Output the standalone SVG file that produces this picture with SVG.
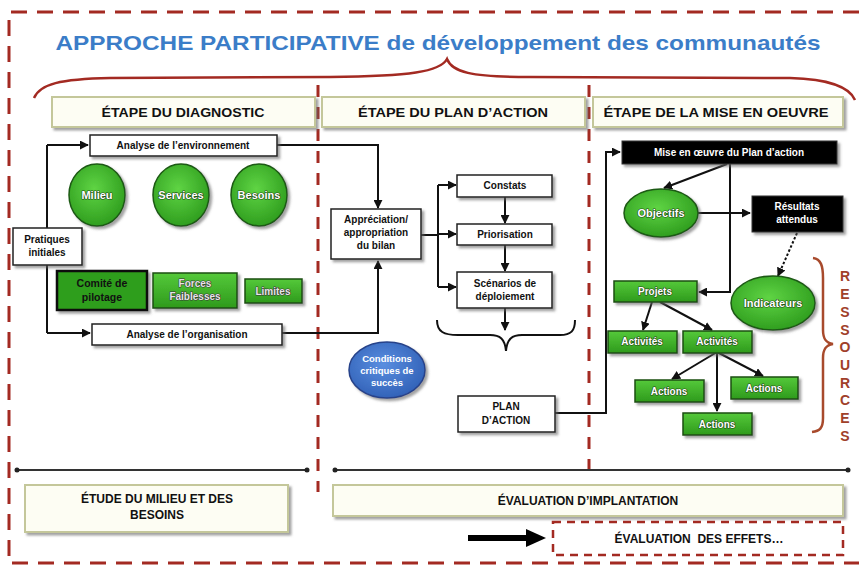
<svg xmlns="http://www.w3.org/2000/svg" width="859" height="567" viewBox="0 0 859 567">
<defs>
<filter id="sh" x="-20%" y="-20%" width="140%" height="150%"><feDropShadow dx="2.5" dy="2.5" stdDeviation="1" flood-color="#666" flood-opacity="0.6"/></filter>
<linearGradient id="gr" x1="0" y1="0" x2="0" y2="1"><stop offset="0" stop-color="#55c93a"/><stop offset="1" stop-color="#2e9a1c"/></linearGradient>
<radialGradient id="gc" cx="0.45" cy="0.4" r="0.65"><stop offset="0" stop-color="#5fd444"/><stop offset="1" stop-color="#2c9a1c"/></radialGradient>
<radialGradient id="bc" cx="0.45" cy="0.4" r="0.65"><stop offset="0" stop-color="#5a8ee0"/><stop offset="1" stop-color="#2f5fb5"/></radialGradient>
<marker id="ar" viewBox="0 0 10 10" refX="9" refY="5" markerWidth="4.5" markerHeight="4.5" orient="auto"><path d="M0 0 L10 5 L0 10 z" fill="#111"/></marker>
</defs>
<style>
.t{font-family:"Liberation Sans",Arial,sans-serif;font-weight:bold;text-anchor:middle}
.hd{fill:#fdfdf3;stroke:#c4c79a;stroke-width:2}
.wb{fill:#fff;stroke:#222;stroke-width:1.5}
.bb{fill:#050505;stroke:#333;stroke-width:1}
.gb{fill:url(#gr);stroke:#1c4d12;stroke-width:1.5}
.ge{fill:url(#gc);stroke:#1d5a13;stroke-width:1.5}
.c{fill:none;stroke:#111;stroke-width:2}
.red{fill:none;stroke:#a32a22;stroke-width:3}
.wt{fill:#fff;stroke:#1f4a14;stroke-width:1.2;paint-order:stroke;stroke-linejoin:round}
.gt{fill:#e6e6e6;stroke:#333;stroke-width:1.1;paint-order:stroke;stroke-linejoin:round}
.k{fill:#111}
.rl{fill:#a0402a}
</style>
<rect width="859" height="567" fill="#fff"/>

<g id="frame">
<path class="red" d="M859 12 H9 V563 H859" stroke-dasharray="16 10"/>
<line class="red" x1="318" y1="85" x2="318" y2="492" stroke-dasharray="12 10"/>
<line class="red" x1="589" y1="85" x2="589" y2="470" stroke-dasharray="12 10"/>
</g>

<g id="title">
<text class="t" x="438" y="50" font-size="21" fill="#3b7dc8" textLength="765" lengthAdjust="spacingAndGlyphs">APPROCHE PARTICIPATIVE de développement des communautés</text>
<path d="M34 98 C40 84 60 79 110 78 L330 77 C410 76 440 72 447 59 C452 72 470 77 530 77 L790 78 C830 79 850 88 855 100" fill="none" stroke="#a32a22" stroke-width="2.5"/>
</g>

<g id="stage-diagnostic">
<rect class="hd" x="52" y="97" width="263" height="30" filter="url(#sh)"/>
<text class="t k" x="183" y="117" font-size="13" textLength="163" lengthAdjust="spacingAndGlyphs">ÉTAPE DU DIAGNOSTIC</text>
</g>
<g id="stage-plan">
<rect class="hd" x="322" y="97" width="263" height="30" filter="url(#sh)"/>
<text class="t k" x="453" y="117" font-size="13" textLength="190" lengthAdjust="spacingAndGlyphs">ÉTAPE DU PLAN D’ACTION</text>
</g>
<g id="stage-mise">
<rect class="hd" x="593" y="97" width="250" height="30" filter="url(#sh)"/>
<text class="t k" x="716" y="117" font-size="13" textLength="225" lengthAdjust="spacingAndGlyphs">ÉTAPE DE LA MISE EN OEUVRE</text>
</g>

<g id="connectors">
<path class="c" d="M47 145 V333"/>
<path class="c" d="M47 145 H88" marker-end="url(#ar)"/>
<path class="c" d="M47 333 H90" marker-end="url(#ar)"/>
<path class="c" d="M277 145 H378 V208" marker-end="url(#ar)"/>
<path class="c" d="M282 333 H378 V261" marker-end="url(#ar)"/>
<path class="c" d="M421 235 H438"/>
<path class="c" d="M438 185 V287"/>
<path class="c" d="M438 185 H456" marker-end="url(#ar)"/>
<path class="c" d="M438 234 H456" marker-end="url(#ar)"/>
<path class="c" d="M438 287 H456" marker-end="url(#ar)"/>
<path class="c" d="M505 197 V223" marker-end="url(#ar)"/>
<path class="c" d="M505 245 V271" marker-end="url(#ar)"/>
<path class="c" d="M505 308 V330" marker-end="url(#ar)"/>
<path class="c" d="M437 320 C437 332 444 335 458 335 L490 335 C500 335 505 339 506 351 C507 339 512 335 522 335 L560 335 C571 335 575 331 575 320"/>
<path class="c" d="M555 413 H606 V152 H620" marker-end="url(#ar)"/>
<path class="c" d="M727 164 L664 188" marker-end="url(#ar)"/>
<path class="c" d="M730 164 V292 H699" marker-end="url(#ar)"/>
<path class="c" d="M697 213 H750" marker-end="url(#ar)"/>
<path class="c" d="M797 233 L778 276" stroke-dasharray="2.5 2" stroke-width="2.5" marker-end="url(#ar)"/>
<path class="c" d="M652 302 L643 330" marker-end="url(#ar)"/>
<path class="c" d="M660 302 L712 330" marker-end="url(#ar)"/>
<path class="c" d="M717 352 L672 379" marker-end="url(#ar)"/>
<path class="c" d="M717 352 V411" marker-end="url(#ar)"/>
<path class="c" d="M717 352 L763 376" marker-end="url(#ar)"/>
<path d="M813 258 C821 259 823 266 823 278 L823 330 C823 339 826 343 833 344 C826 345 823 349 823 358 L823 418 C823 428 820 431 812 432" fill="none" stroke="#a84a2c" stroke-width="2.5"/>
<path d="M17 470 H307 M335 470 H848" stroke="#333" stroke-width="2"/>
<circle cx="17" cy="470" r="2.5" fill="#222"/><circle cx="307" cy="470" r="2.5" fill="#222"/>
<circle cx="335" cy="470" r="2.5" fill="#222"/><circle cx="848" cy="470" r="2.5" fill="#222"/>
<path d="M468 538 H528" stroke="#000" stroke-width="6"/>
<path d="M526 529 L546 538 L526 547 z" fill="#000"/>
</g>

<g id="env">
<rect class="wb" x="90" y="135" width="187" height="21" filter="url(#sh)"/>
<text class="t k" x="183" y="149" font-size="10">Analyse de l’environnement</text>
</g>
<g id="milieu">
<ellipse class="ge" cx="97" cy="195" rx="28" ry="31" filter="url(#sh)"/>
<text class="t wt" x="97" y="199" font-size="11">Milieu</text>
</g>
<g id="services">
<ellipse class="ge" cx="181" cy="195" rx="28" ry="31" filter="url(#sh)"/>
<text class="t wt" x="181" y="199" font-size="11">Services</text>
</g>
<g id="besoins">
<ellipse class="ge" cx="259" cy="195" rx="28" ry="31" filter="url(#sh)"/>
<text class="t wt" x="259" y="199" font-size="11">Besoins</text>
</g>
<g id="pratiques">
<rect class="wb" x="13" y="228" width="69" height="37" filter="url(#sh)"/>
<text class="t k" x="47" y="243" font-size="10">Pratiques</text>
<text class="t k" x="47" y="256" font-size="10">initiales</text>
</g>
<g id="comite">
<rect x="57" y="271" width="90" height="39" fill="#2f9e1e" stroke="#0a0a0a" stroke-width="2.5" filter="url(#sh)"/>
<text class="t k" x="102" y="287" font-size="10.5">Comité de</text>
<text class="t k" x="102" y="301" font-size="10.5">pilotage</text>
</g>
<g id="forces">
<rect class="gb" x="153" y="273" width="84" height="35" filter="url(#sh)"/>
<text class="t gt" x="195" y="287" font-size="10">Forces</text>
<text class="t gt" x="195" y="300" font-size="10">Faiblesses</text>
</g>
<g id="limites">
<rect class="gb" x="245" y="279" width="57" height="24" filter="url(#sh)"/>
<text class="t gt" x="273" y="295" font-size="10">Limites</text>
</g>
<g id="org">
<rect class="wb" x="92" y="324" width="190" height="21" filter="url(#sh)"/>
<text class="t k" x="187" y="338" font-size="10">Analyse de l’organisation</text>
</g>

<g id="appreciation">
<rect class="wb" x="331" y="209" width="90" height="50" filter="url(#sh)"/>
<text class="t k" x="376" y="223" font-size="10">Appréciation/</text>
<text class="t k" x="376" y="236" font-size="10">appropriation</text>
<text class="t k" x="376" y="249" font-size="10">du bilan</text>
</g>
<g id="constats">
<rect class="wb" x="457" y="175" width="95" height="22" filter="url(#sh)"/>
<text class="t k" x="505" y="189" font-size="10">Constats</text>
</g>
<g id="priorisation">
<rect class="wb" x="457" y="224" width="95" height="21" filter="url(#sh)"/>
<text class="t k" x="505" y="238" font-size="10">Priorisation</text>
</g>
<g id="scenarios">
<rect class="wb" x="457" y="272" width="95" height="36" filter="url(#sh)"/>
<text class="t k" x="505" y="287" font-size="10">Scénarios de</text>
<text class="t k" x="505" y="300" font-size="10">déploiement</text>
</g>
<g id="conditions">
<ellipse cx="387" cy="370" rx="38" ry="28" fill="url(#bc)" stroke="#27438a" stroke-width="1.5" filter="url(#sh)"/>
<text class="t" x="387" y="362" font-size="9.5" fill="#fff">Conditions</text>
<text class="t" x="387" y="374" font-size="9.5" fill="#fff">critiques de</text>
<text class="t" x="387" y="386" font-size="9.5" fill="#fff">succès</text>
</g>
<g id="plan">
<rect class="wb" x="458" y="396" width="97" height="36" filter="url(#sh)"/>
<text class="t k" x="506" y="410" font-size="10">PLAN</text>
<text class="t k" x="506" y="424" font-size="10">D’ACTION</text>
</g>

<g id="mise">
<rect class="bb" x="622" y="141" width="215" height="23" filter="url(#sh)"/>
<text class="t" x="729" y="156" font-size="10" fill="#fff">Mise en œuvre du Plan d’action</text>
</g>
<g id="objectifs">
<ellipse class="ge" cx="661" cy="213" rx="37" ry="24" filter="url(#sh)"/>
<text class="t wt" x="661" y="217" font-size="11">Objectifs</text>
</g>
<g id="resultats">
<rect class="bb" x="752" y="196" width="91" height="36" filter="url(#sh)"/>
<text class="t" x="797" y="210" font-size="10" fill="#fff">Résultats</text>
<text class="t" x="797" y="223" font-size="10" fill="#fff">attendus</text>
</g>
<g id="indicateurs">
<ellipse class="ge" cx="773" cy="303" rx="42" ry="27" filter="url(#sh)"/>
<text class="t wt" x="773" y="307" font-size="11">Indicateurs</text>
</g>
<g id="projets">
<rect class="gb" x="614" y="281" width="83" height="21" filter="url(#sh)"/>
<text class="t wt" x="655" y="295" font-size="10">Projets</text>
</g>
<g id="activites1">
<rect class="gb" x="608" y="331" width="69" height="22" filter="url(#sh)"/>
<text class="t wt" x="642" y="345" font-size="10">Activités</text>
</g>
<g id="activites2">
<rect class="gb" x="683" y="331" width="69" height="22" filter="url(#sh)"/>
<text class="t wt" x="717" y="345" font-size="10">Activités</text>
</g>
<g id="actions1">
<rect class="gb" x="635" y="380" width="69" height="22" filter="url(#sh)"/>
<text class="t wt" x="669" y="395" font-size="10">Actions</text>
</g>
<g id="actions2">
<rect class="gb" x="731" y="377" width="67" height="22" filter="url(#sh)"/>
<text class="t wt" x="764" y="392" font-size="10">Actions</text>
</g>
<g id="actions3">
<rect class="gb" x="683" y="413" width="69" height="22" filter="url(#sh)"/>
<text class="t wt" x="717" y="428" font-size="10">Actions</text>
</g>
<g id="ressources">
<text class="t rl" x="845" y="281" font-size="14">R</text>
<text class="t rl" x="845" y="299" font-size="14">E</text>
<text class="t rl" x="845" y="317" font-size="14">S</text>
<text class="t rl" x="845" y="335" font-size="14">S</text>
<text class="t rl" x="845" y="352" font-size="14">O</text>
<text class="t rl" x="845" y="370" font-size="14">U</text>
<text class="t rl" x="845" y="388" font-size="14">R</text>
<text class="t rl" x="845" y="405" font-size="14">C</text>
<text class="t rl" x="845" y="423" font-size="14">E</text>
<text class="t rl" x="845" y="441" font-size="14">S</text>
</g>

<g id="etude">
<rect class="hd" x="25" y="485" width="263" height="47" filter="url(#sh)"/>
<text class="t k" x="157" y="503" font-size="12">ÉTUDE DU MILIEU ET DES</text>
<text class="t k" x="157" y="519" font-size="12">BESOINS</text>
</g>
<g id="evaluation-implantation">
<rect class="hd" x="333" y="485" width="510" height="31" filter="url(#sh)"/>
<text class="t k" x="588" y="505" font-size="12">ÉVALUATION D’IMPLANTATION</text>
</g>
<g id="evaluation-effets">
<rect x="553" y="522" width="290" height="33" fill="none" stroke="#a32a22" stroke-width="2.5" stroke-dasharray="8 6"/>
<text class="t k" x="699" y="543" font-size="12" xml:space="preserve">ÉVALUATION  DES EFFETS…</text>
</g>
</svg>
